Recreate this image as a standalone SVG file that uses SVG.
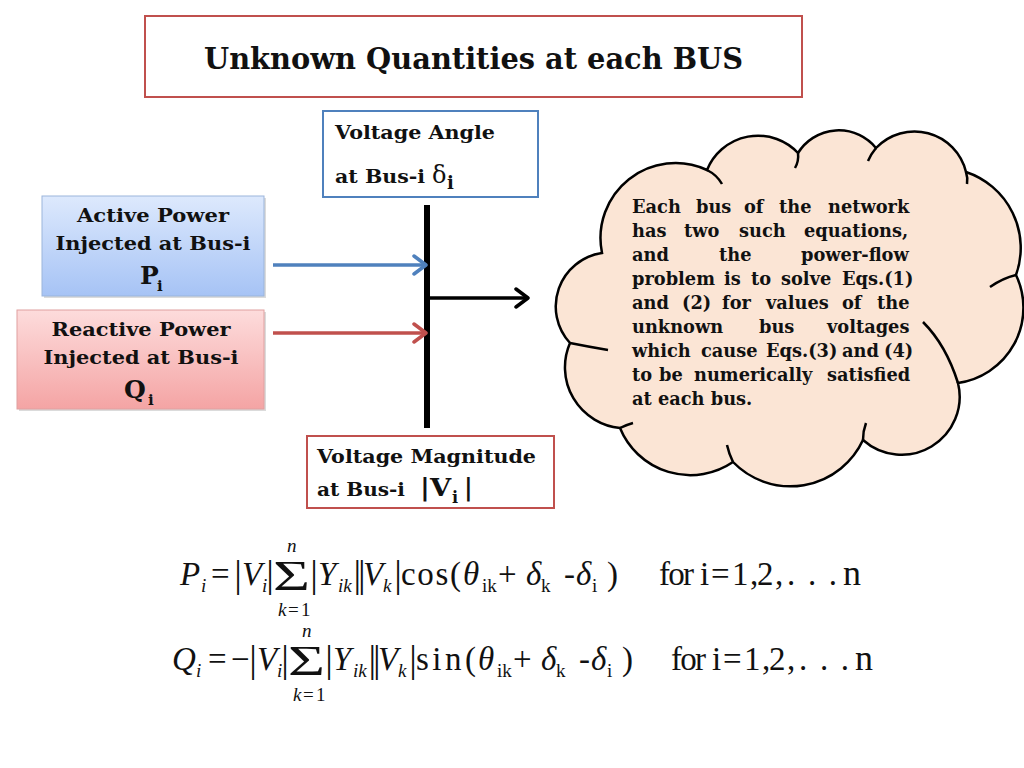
<svg xmlns="http://www.w3.org/2000/svg" width="1024" height="768" viewBox="0 0 1024 768">
<defs>
<style>
.bk{font-family:"DejaVu Serif","Liberation Serif",serif;font-weight:bold;fill:#111}
.m{font-family:"Liberation Serif","Times New Roman",serif;fill:#111}
.it{font-style:italic}
.bar{font-family:"Liberation Serif",serif;fill:#111;font-size:38px;text-anchor:middle}
.sub{font-size:19px}
.ct{font-family:"DejaVu Serif","Liberation Serif",serif;font-weight:bold;font-size:17.8px;fill:#111}
</style>
<linearGradient id="gBlue" x1="0" y1="0" x2="0" y2="1">
<stop offset="0" stop-color="#dde9fd"/><stop offset="1" stop-color="#a6c3f5"/>
</linearGradient>
<linearGradient id="gRed" x1="0" y1="0" x2="0" y2="1">
<stop offset="0" stop-color="#fddcdc"/><stop offset="1" stop-color="#f4a4a4"/>
</linearGradient>
<marker id="aBlue" markerUnits="userSpaceOnUse" viewBox="0 0 16 22" refX="14" refY="11" markerWidth="16" markerHeight="22" orient="auto">
<path d="M2,2 L14,11 L2,20" fill="none" stroke="#4f81bd" stroke-width="3.5" stroke-linecap="round" stroke-linejoin="round"/>
</marker>
<marker id="aRed" markerUnits="userSpaceOnUse" viewBox="0 0 16 22" refX="14" refY="11" markerWidth="16" markerHeight="22" orient="auto">
<path d="M2,2 L14,11 L2,20" fill="none" stroke="#c0504d" stroke-width="3.5" stroke-linecap="round" stroke-linejoin="round"/>
</marker>
<marker id="aBlack" markerUnits="userSpaceOnUse" viewBox="0 0 16 22" refX="14" refY="11" markerWidth="16" markerHeight="22" orient="auto">
<path d="M2,2 L14,11 L2,20" fill="none" stroke="#000" stroke-width="3.5" stroke-linecap="round" stroke-linejoin="round"/>
</marker>
</defs>
<rect width="1024" height="768" fill="#fff"/>

<g id="title">
<rect x="145" y="16" width="657" height="81" fill="#fff" stroke="#c0504d" stroke-width="2"/>
<text class="bk" x="204" y="69" font-size="29" textLength="539" lengthAdjust="spacingAndGlyphs">Unknown Quantities at each BUS</text>
</g>

<g id="voltage-angle">
<rect x="323" y="111" width="215" height="86" fill="#fff" stroke="#4f81bd" stroke-width="2"/>
<text class="bk" x="335" y="139" font-size="19" textLength="160" lengthAdjust="spacingAndGlyphs">Voltage Angle</text>
<text class="bk" x="335" y="183" font-size="19" textLength="90" lengthAdjust="spacingAndGlyphs">at Bus-i</text>
<text x="432" y="183" font-family="DejaVu Serif,serif" font-size="24" fill="#111">δ</text>
<text class="bk" x="447" y="189" font-size="18">i</text>
</g>

<g id="active-power">
<rect x="44" y="198" width="222" height="100" fill="#999" opacity="0.35"/>
<rect x="42" y="196" width="222" height="100" fill="url(#gBlue)" stroke="#9bb5db" stroke-width="1"/>
<text class="bk" x="153" y="222" font-size="18" text-anchor="middle" textLength="152" lengthAdjust="spacingAndGlyphs">Active Power</text>
<text class="bk" x="153" y="250" font-size="18" text-anchor="middle" textLength="195" lengthAdjust="spacingAndGlyphs">Injected at Bus-i</text>
<text class="bk" x="140" y="284" font-size="25">P</text>
<text class="bk" x="157" y="291" font-size="15">i</text>
</g>

<g id="reactive-power">
<rect x="19" y="312" width="247" height="99" fill="#999" opacity="0.35"/>
<rect x="17" y="310" width="247" height="99" fill="url(#gRed)" stroke="#e0a0a0" stroke-width="1"/>
<text class="bk" x="141" y="336" font-size="18" text-anchor="middle" textLength="179" lengthAdjust="spacingAndGlyphs">Reactive Power</text>
<text class="bk" x="141" y="364" font-size="18" text-anchor="middle" textLength="195" lengthAdjust="spacingAndGlyphs">Injected at Bus-i</text>
<text class="bk" x="124" y="398" font-size="25">Q</text>
<text class="bk" x="148" y="405" font-size="15">i</text>
</g>

<g id="voltage-magnitude">
<rect x="307" y="436" width="247" height="72" fill="#fff" stroke="#c0504d" stroke-width="2"/>
<text class="bk" x="317" y="463" font-size="19" textLength="219" lengthAdjust="spacingAndGlyphs">Voltage Magnitude</text>
<text class="bk" x="317" y="496" font-size="19" textLength="88" lengthAdjust="spacingAndGlyphs">at Bus-i</text>
<text class="bk" x="420" y="496" font-size="24" textLength="31" lengthAdjust="spacingAndGlyphs">|V</text>
<text class="bk" x="452" y="503" font-size="16">i</text>
<text class="bk" x="464" y="496" font-size="24">|</text>
</g>

<g id="bus">
<line x1="427" y1="205" x2="427" y2="428" stroke="#000" stroke-width="6"/>
</g>

<g id="connectors" fill="none" stroke-width="3.5">
<line x1="273" y1="265" x2="426" y2="265" stroke="#4f81bd" marker-end="url(#aBlue)"/>
<line x1="273" y1="333" x2="426" y2="333" stroke="#c0504d" marker-end="url(#aRed)"/>
<line x1="430" y1="298" x2="528" y2="298" stroke="#000" marker-end="url(#aBlack)"/>
</g>

<g id="cloud">
<path d="M602,253 A75,75 0 0 1 707,170 A55,55 0 0 1 798,153 A48,48 0 0 1 876,148 A53,53 0 0 1 966,172 A80,80 0 0 1 1016,275 A76,76 0 0 1 958,383 A58,58 0 0 1 863,440 A80,80 0 0 1 733,462 A76,76 0 0 1 620,428 A61,61 0 0 1 570,343 A54,54 0 0 1 602,253 Z" fill="#fbe5d5" stroke="#000" stroke-width="2.5"/>
<g fill="none" stroke="#000" stroke-width="2.5">
<path d="M707,170 Q717,175 722,184"/>
<path d="M798,153 Q799,161 795,168"/>
<path d="M876,148 Q871,154 868,161"/>
<path d="M966,172 Q968,178 967,184"/>
<path d="M1016,275 Q1003,278 990,287"/>
<path d="M958,383 Q946,345 923,322"/>
<path d="M863,440 Q863,431 866,423"/>
<path d="M733,462 Q729,454 727,445"/>
<path d="M620,428 Q626,425 633,423"/>
<path d="M570,343 Q590,347 608,350"/>
</g>
<text class="ct" y="213"><tspan x="632">Each</tspan><tspan x="696">bus</tspan><tspan x="744">of</tspan><tspan x="779">the</tspan><tspan x="828">network</tspan></text>
<text class="ct" y="237"><tspan x="632">has</tspan><tspan x="684">two</tspan><tspan x="739">such</tspan><tspan x="804">equations,</tspan></text>
<text class="ct" y="261"><tspan x="632">and</tspan><tspan x="719">the</tspan><tspan x="801">power-flow</tspan></text>
<text class="ct" y="285"><tspan x="632">problem</tspan><tspan x="724">is</tspan><tspan x="751">to</tspan><tspan x="781">solve</tspan><tspan x="842">Eqs.(1)</tspan></text>
<text class="ct" y="309"><tspan x="632">and</tspan><tspan x="682">(2)</tspan><tspan x="722">for</tspan><tspan x="766">values</tspan><tspan x="842">of</tspan><tspan x="877">the</tspan></text>
<text class="ct" y="333"><tspan x="632">unknown</tspan><tspan x="759">bus</tspan><tspan x="827">voltages</tspan></text>
<text class="ct" y="357"><tspan x="632">which</tspan><tspan x="701">cause</tspan><tspan x="766">Eqs.(3)</tspan><tspan x="842">and</tspan><tspan x="884">(4)</tspan></text>
<text class="ct" y="381"><tspan x="632">to</tspan><tspan x="659">be</tspan><tspan x="694">numerically</tspan><tspan x="827">satisfied</tspan></text>
<text class="ct" x="632" y="405">at each bus.</text>
</g>

<g id="equation-1" class="m" font-size="33">
<text class="m it" x="180" y="585">P</text>
<text class="m it sub" x="201" y="592">i</text>
<text class="m" x="211" y="585">=</text>
<text class="bar" x="238" y="587">|</text>
<text class="m it" x="242" y="585">V</text>
<text class="m it sub" x="262" y="592">i</text>
<text class="bar" x="270" y="587">|</text>
<text class="m" x="273" y="590" font-size="42" textLength="37" lengthAdjust="spacingAndGlyphs">Σ</text>
<text class="m it sub" x="287" y="552">n</text>
<text class="m it sub" x="278" y="616">k</text>
<text class="m sub" x="288" y="616">=</text>
<text class="m sub" x="301" y="616">1</text>
<text class="bar" x="314" y="587">|</text>
<text class="m it" x="318" y="585">Y</text>
<text class="m it sub" x="338" y="592">ik</text>
<text class="bar" x="358" y="587" letter-spacing="-3">||</text>
<text class="m it" x="363" y="585">V</text>
<text class="m it sub" x="383" y="592">k</text>
<text class="bar" x="398" y="587">|</text>
<text class="m" x="401" y="585" textLength="60">cos(</text>
<text class="m it" x="463" y="585">θ</text>
<text class="m sub" x="482" y="592">ik</text>
<text class="m" x="498" y="585">+</text>
<text class="m it" x="526" y="585">δ</text>
<text class="m sub" x="541" y="592">k</text>
<text class="m" x="564" y="585">-</text>
<text class="m it" x="576" y="585">δ</text>
<text class="m sub" x="592" y="592">i</text>
<text class="m" x="607" y="585">)</text>
<text class="m" x="659" y="585" textLength="35">for</text>
<text class="m" x="700" y="585">i</text>
<text class="m" x="711" y="585">=</text>
<text class="m" x="732" y="585">1</text>
<text class="m" x="750" y="585">,</text>
<text class="m" x="757" y="585">2</text>
<text class="m" x="775" y="585">,</text>
<text class="m" x="787" y="585" textLength="50">...</text>
<text class="m" x="843" y="585" font-size="36">n</text>
</g>

<g id="equation-2" class="m" font-size="33">
<text class="m it" x="172" y="670">Q</text>
<text class="m it sub" x="196" y="677">i</text>
<text class="m" x="208" y="670">=</text>
<text class="m" x="231" y="670">−</text>
<text class="bar" x="253" y="672">|</text>
<text class="m it" x="257" y="670">V</text>
<text class="m it sub" x="277" y="677">i</text>
<text class="bar" x="285" y="672">|</text>
<text class="m" x="288" y="675" font-size="42" textLength="37" lengthAdjust="spacingAndGlyphs">Σ</text>
<text class="m it sub" x="302" y="637">n</text>
<text class="m it sub" x="293" y="701">k</text>
<text class="m sub" x="303" y="701">=</text>
<text class="m sub" x="316" y="701">1</text>
<text class="bar" x="329" y="672">|</text>
<text class="m it" x="333" y="670">Y</text>
<text class="m it sub" x="353" y="677">ik</text>
<text class="bar" x="373" y="672" letter-spacing="-3">||</text>
<text class="m it" x="378" y="670">V</text>
<text class="m it sub" x="398" y="677">k</text>
<text class="bar" x="413" y="672">|</text>
<text class="m" x="416" y="670" textLength="60">sin(</text>
<text class="m it" x="478" y="670">θ</text>
<text class="m sub" x="497" y="677">ik</text>
<text class="m" x="513" y="670">+</text>
<text class="m it" x="541" y="670">δ</text>
<text class="m sub" x="556" y="677">k</text>
<text class="m" x="579" y="670">-</text>
<text class="m it" x="591" y="670">δ</text>
<text class="m sub" x="607" y="677">i</text>
<text class="m" x="622" y="670">)</text>
<text class="m" x="671" y="670" textLength="35">for</text>
<text class="m" x="712" y="670">i</text>
<text class="m" x="723" y="670">=</text>
<text class="m" x="744" y="670">1</text>
<text class="m" x="762" y="670">,</text>
<text class="m" x="769" y="670">2</text>
<text class="m" x="787" y="670">,</text>
<text class="m" x="799" y="670" textLength="50">...</text>
<text class="m" x="855" y="670" font-size="36">n</text>
</g>
</svg>
